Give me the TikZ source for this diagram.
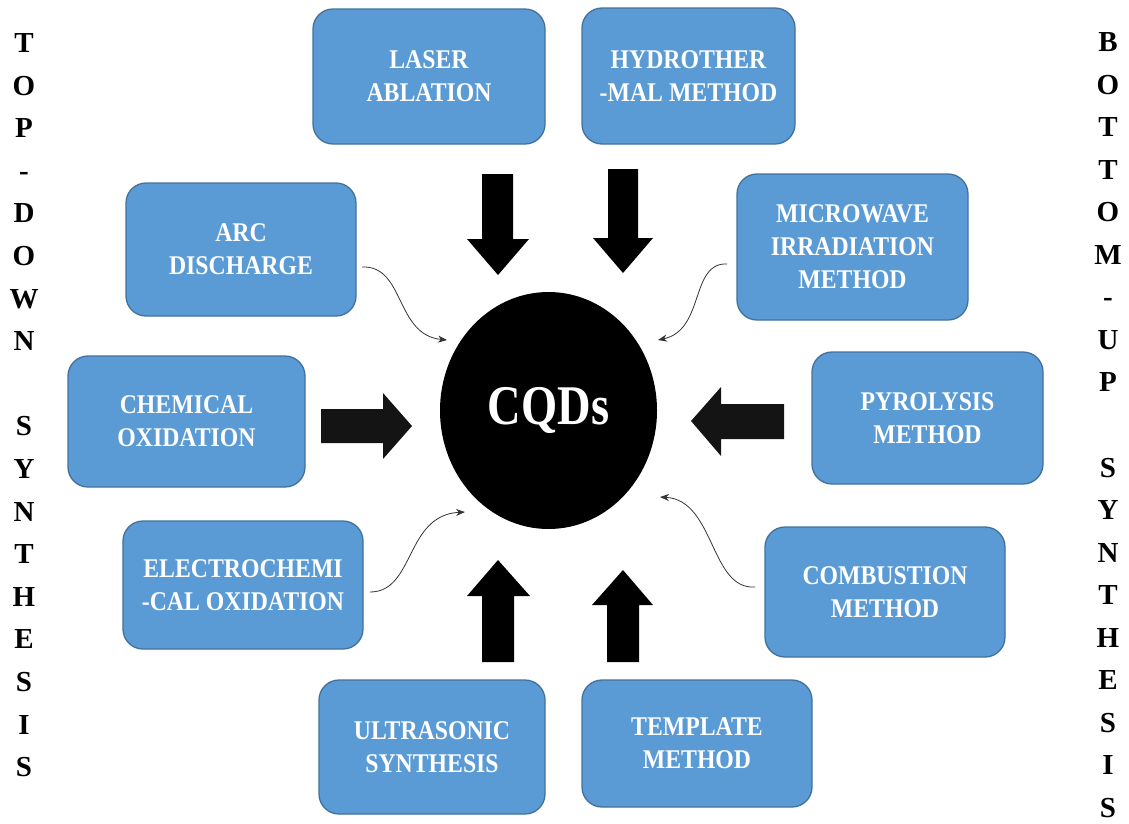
\documentclass[tikz,border=0pt]{standalone}
\usepackage{fontspec}
\setmainfont{Liberation Serif}
\newfontfamily\boxfont[FakeStretch=0.88]{Liberation Serif}
\newfontfamily\cqdfont[FakeStretch=0.83]{Liberation Serif}
\usetikzlibrary{shapes.geometric,arrows.meta}
\definecolor{boxblue}{HTML}{5B9BD5}
\definecolor{boxedge}{HTML}{41719C}
\definecolor{curvegray}{HTML}{333333}
\definecolor{sidearrow}{HTML}{141414}
\begin{document}
\begin{tikzpicture}[x=1pt,y=-1pt,
  box/.style={rectangle, rounded corners=20pt, fill=boxblue, draw=boxedge,
    line width=1.3pt, text=white, align=center, inner sep=0pt,
    font=\boxfont\bfseries\fontsize{27}{33}\selectfont},
  curvy/.style={draw=curvegray, line width=0.8pt, -{Stealth[length=9pt,width=7pt]}},
  sideletter/.style={anchor=base, inner sep=0pt,
    font=\bfseries\fontsize{29}{29}\selectfont}]
\useasboundingbox (0,0) rectangle (1129,823);

% method boxes
\node[box, minimum width=232, minimum height=135] (laser)    at (429,76.5)  {LASER\\ABLATION};
\node[box, minimum width=213, minimum height=136] (hydro)    at (688.5,76)  {HYDROTHER\\-MAL METHOD};
\node[box, minimum width=230, minimum height=133] (arc)      at (241,249.5) {ARC\\DISCHARGE};
\node[box, minimum width=231, minimum height=146] (micro)    at (852.5,247) {MICROWAVE\\IRRADIATION\\METHOD};
\node[box, minimum width=237, minimum height=131] (chem)     at (186.5,421.5) {CHEMICAL\\OXIDATION};
\node[box, minimum width=231, minimum height=132] (pyro)     at (927.5,418) {PYROLYSIS\\METHOD};
\node[box, minimum width=240, minimum height=128] (electro)  at (243,585)   {ELECTROCHEMI\\-CAL OXIDATION};
\node[box, minimum width=240, minimum height=130] (combust)  at (885,592)   {COMBUSTION\\METHOD};
\node[box, minimum width=226, minimum height=134] (ultra)    at (432,747)   {ULTRASONIC\\SYNTHESIS};
\node[box, minimum width=230, minimum height=127] (template) at (697,743.5) {TEMPLATE\\METHOD};

% central product
\node[ellipse, fill=black, minimum width=217, minimum height=237, inner sep=0pt,
      text=white, font=\cqdfont\bfseries\fontsize{56}{56}\selectfont] (cqd) at (548.5,410.5) {CQDs};

% block arrows from above
\fill[black] (482,174) -- (513,174) -- (513,239) -- (529,239) -- (498,275) -- (467,239) -- (482,239) -- cycle;
\fill[black] (608,169) -- (638,169) -- (638,238) -- (653,238) -- (623,273) -- (593,238) -- (608,238) -- cycle;
% block arrows from below
\fill[black] (482,662) -- (514,662) -- (514,596) -- (530,596) -- (498,560) -- (467,596) -- (482,596) -- cycle;
\fill[black] (607,662) -- (639,662) -- (639,605) -- (653,605) -- (623,570) -- (592,605) -- (607,605) -- cycle;
% block arrows from the sides
\fill[sidearrow] (321,409) -- (383,409) -- (383,393) -- (412,426) -- (383,459) -- (383,443) -- (321,443) -- cycle;
\fill[sidearrow] (784,404) -- (721,404) -- (721,387) -- (691,421) -- (721,456) -- (721,439) -- (784,439) -- cycle;

% curved connectors
\coordinate (arcout) at (362,267);      \coordinate (arcin) at (447,340);
\coordinate (microout) at (727,264);    \coordinate (microin) at (658,340);
\coordinate (electroout) at (370,592);  \coordinate (electroin) at (465,512);
\coordinate (combustout) at (755,587);  \coordinate (combustin) at (660,497);
\draw[curvy] (arcout) .. controls (405,265) and (395,335) .. (arcin);
\draw[curvy] (microout) .. controls (690,262) and (705,330) .. (microin);
\draw[curvy] (electroout) .. controls (415,592) and (405,515) .. (electroin);
\draw[curvy] (combustout) .. controls (710,590) and (715,500) .. (combustin);

% vertical side captions
\foreach \ch [count=\i] in {T,O,P,-,D,O,W,N,{},S,Y,N,T,H,E,S,I,S}
  \node[sideletter] (td\i) at (24,{52.5+(\i-1)*42.6}) {\ch};
\foreach \ch [count=\i] in {B,O,T,T,O,M,-,U,P,{},S,Y,N,T,H,E,S,I,S}
  \node[sideletter] (bu\i) at (1108,{51.5+(\i-1)*42.55}) {\ch};
\end{tikzpicture}
\end{document}
